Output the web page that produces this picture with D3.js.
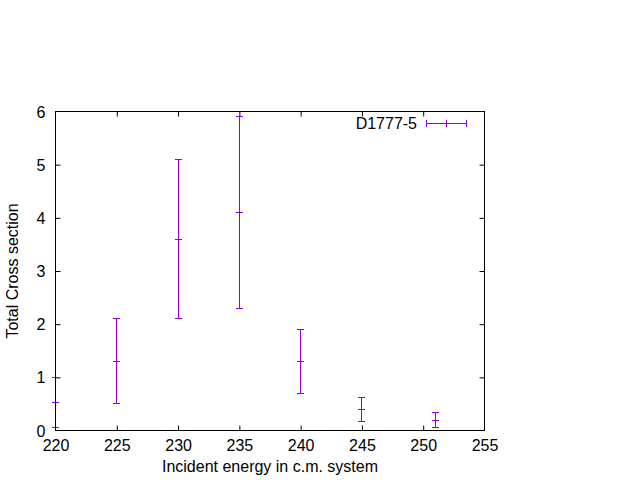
<!DOCTYPE html>
<html><head><meta charset="utf-8">
<script src="https://cdn.jsdelivr.net/npm/d3@7"></script>
<style>body{margin:0;background:#fff}svg{display:block}text{font-family:"Liberation Sans",Arial,sans-serif;}</style>
</head><body>
<script>
const energies = [220, 225, 230, 235, 240, 245, 251];
const values   = [0.52, 1.3, 3.6, 4.1, 1.3, 0.4, 0.19];
const lows     = [0.06, 0.5, 2.1, 2.3, 0.7, 0.17, 0.05];
const highs    = [1.0, 2.1, 5.1, 5.9, 1.9, 0.63, 0.33];
const xTicks = [220, 225, 230, 235, 240, 245, 250, 255];
const yTicks = [0, 1, 2, 3, 4, 5, 6];
const seriesName = "D1777-5";
const color = "#9400d3";

const W = 640, H = 480;
const m = {l: 55.5, r: 484.5, t: 111.5, b: 430.5};
const svg = d3.select("body").append("svg").attr("width", W).attr("height", H);
const x = d3.scaleLinear().domain([220, 255]).range([m.l, m.r]);
const y = d3.scaleLinear().domain([0, 6]).range([m.b, m.t]);
const fs = 16;

const g = svg.append("g");
const tl = 5;
const axB = g.append("g").attr("transform", `translate(0,${m.b})`)
  .call(d3.axisBottom(x).tickValues(xTicks).tickSize(-tl).tickPadding(tl + 4).tickFormat(d3.format("d")));
const axT = g.append("g").attr("transform", `translate(0,${m.t})`)
  .call(d3.axisTop(x).tickValues(xTicks).tickSize(-tl).tickFormat(""));
const axL = g.append("g").attr("transform", `translate(${m.l},0)`)
  .call(d3.axisLeft(y).tickValues(yTicks).tickSize(-tl).tickPadding(tl + 5).tickFormat(d3.format("d")));
const axR = g.append("g").attr("transform", `translate(${m.r},0)`)
  .call(d3.axisRight(y).tickValues(yTicks).tickSize(-tl).tickFormat(""));
[axB, axT, axL, axR].forEach(a => {
  a.select(".domain").remove();
  a.selectAll("line").attr("stroke", "#000");
  a.selectAll("text").attr("font-size", fs).attr("fill", "#000")
    .attr("font-family", '"Liberation Sans",Arial,sans-serif');
});
axB.selectAll(".tick").filter(d => d === 220 || d === 255).select("line").remove();
axT.selectAll(".tick").filter(d => d === 220 || d === 255).select("line").remove();
axL.selectAll(".tick").filter(d => d === 0 || d === 6).select("line").remove();
axR.selectAll(".tick").filter(d => d === 0 || d === 6).select("line").remove();
axL.selectAll("text").attr("dy", "0.35em");
axB.selectAll("text").attr("dy", "0.71em");

// error bars
const data = energies.map((e, i) => ({e, v: values[i], lo: lows[i], hi: highs[i]}));
const cap = 3.5;
const eb = g.append("g").attr("stroke", color).attr("stroke-width", 1).attr("fill", "none");
data.forEach(d => {
  const px = Math.round(x(d.e) - 0.5) + 0.5;
  eb.append("line").attr("x1", px).attr("x2", px).attr("y1", y(d.lo)).attr("y2", y(d.hi));
  [d.lo, d.hi, d.v].forEach(v => {
    const py = Math.round(y(v) - 0.5) + 0.5;
    eb.append("line").attr("x1", px - cap).attr("x2", px + cap).attr("y1", py).attr("y2", py);
  });
});

// border
g.append("rect").attr("x", m.l).attr("y", m.t).attr("width", m.r - m.l).attr("height", m.b - m.t)
  .attr("fill", "none").attr("stroke", "#000").attr("stroke-width", 1);

// key
const ky = 123.5;
svg.append("text").attr("x", 417).attr("y", ky).attr("dy", "0.35em").attr("text-anchor", "end")
  .attr("font-size", fs).text(seriesName);
const k = svg.append("g").attr("stroke", color).attr("stroke-width", 1);
k.append("line").attr("x1", 426).attr("x2", 466).attr("y1", ky).attr("y2", ky);
[426.5, 446.5, 466.5].forEach(px => k.append("line").attr("x1", px).attr("x2", px).attr("y1", ky - 3.5).attr("y2", ky + 3.5));

// axis labels
svg.append("text").attr("x", (m.l + m.r) / 2).attr("y", 472).attr("text-anchor", "middle")
  .attr("font-size", fs).text("Incident energy in c.m. system");
svg.append("text").attr("transform", `translate(18,${(m.t + m.b) / 2}) rotate(-90)`)
  .attr("text-anchor", "middle").attr("font-size", fs).text("Total Cross section");
</script>
</body></html>
